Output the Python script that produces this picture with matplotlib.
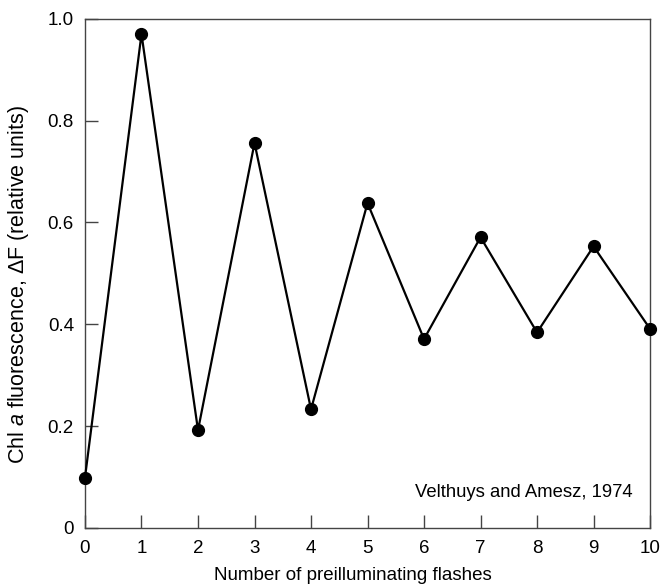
import matplotlib
matplotlib.use('Agg')
import matplotlib.pyplot as plt

plt.rcParams['font.family'] = ['Liberation Sans', 'DejaVu Sans']
plt.rcParams['mathtext.fontset'] = 'custom'
plt.rcParams['mathtext.rm'] = 'Liberation Sans'
plt.rcParams['mathtext.it'] = 'Liberation Sans:italic'

# data
flashes = [0, 1, 2, 3, 4, 5, 6, 7, 8, 9, 10]
delta_f = [0.099, 0.970, 0.192, 0.756, 0.233, 0.638, 0.371, 0.571, 0.384, 0.553, 0.391]
yticks = [0, 0.2, 0.4, 0.6, 0.8, 1.0]
ytick_labels = ['0', '0.2', '0.4', '0.6', '0.8', '1.0']

fig = plt.figure(figsize=(6.64, 5.86), dpi=100)
ax = fig.add_axes([0.128, 0.099, 0.851, 0.869])

ax.plot(flashes, delta_f, color='black', linewidth=1.6, marker='o',
        markersize=8.5, clip_on=False, zorder=3)

ax.set_xlim(0, 10)
ax.set_ylim(0, 1.0)
ax.set_xticks(flashes)
ax.set_yticks(yticks)
ax.set_yticklabels(ytick_labels)
ax.tick_params(direction='in', length=9.5, width=1, color='#444444',
               labelsize=13.5, top=False, right=False)
ax.tick_params(axis='x', pad=9)
ax.tick_params(axis='y', pad=8)
for s in ax.spines.values():
    s.set_color('#444444')
    s.set_linewidth(1)

ax.set_xlabel('Number of preilluminating flashes', fontsize=13.5)
ax.set_ylabel('Chl $a$ fluorescence, ΔF (relative units)', fontsize=15.5)
ax.xaxis.set_label_coords(0.474, -0.076)
ax.yaxis.set_label_coords(-0.095, 0.479)

ax.text(9.7, 0.07, 'Velthuys and Amesz, 1974', fontsize=13.3, ha='right', va='center')

fig.savefig('out.png', dpi=100)
